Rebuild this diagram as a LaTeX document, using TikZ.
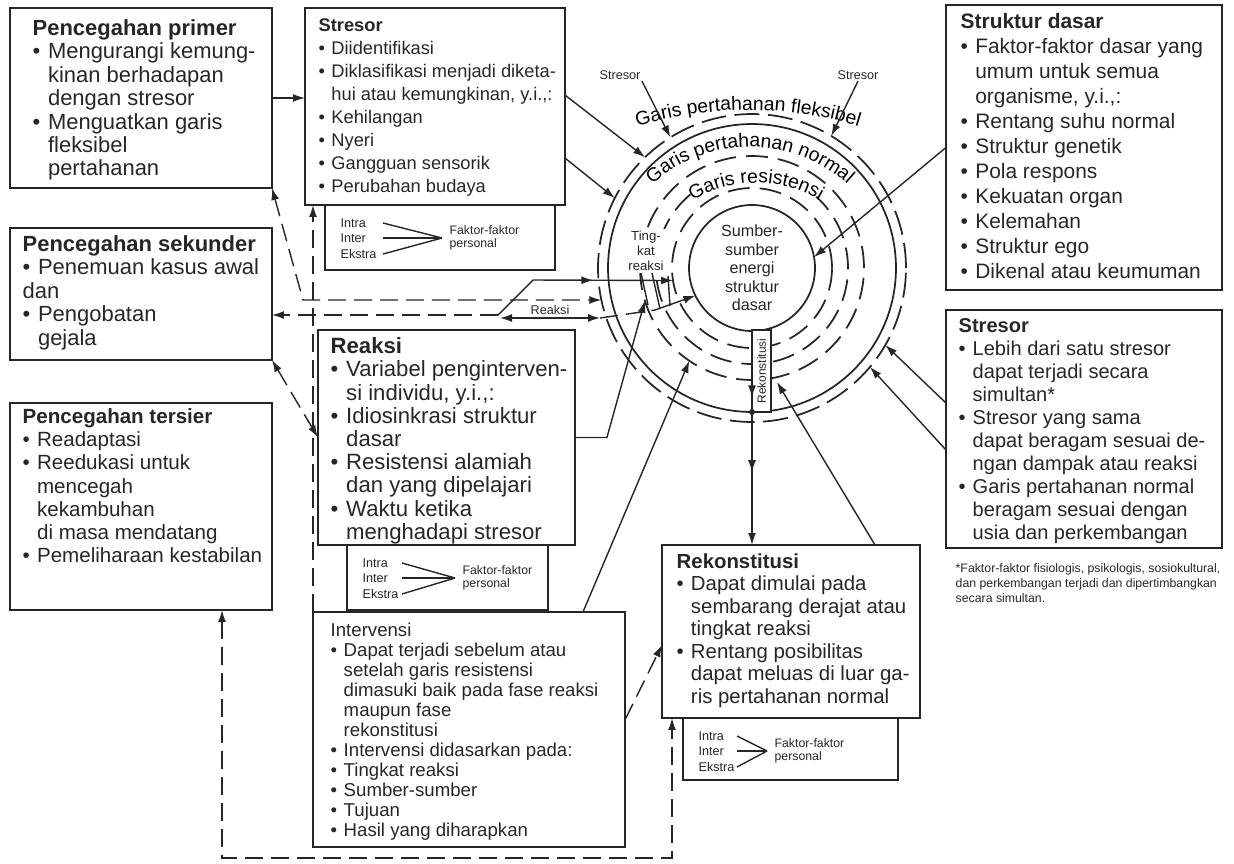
\documentclass[tikz,border=0pt]{standalone}
\usepackage{fontspec}
\setmainfont{Liberation Sans}
\usetikzlibrary{arrows.meta,calc,decorations.markings,decorations.text}

\definecolor{ink}{HTML}{262626}
\newcommand{\bul}{\makebox[0.7em][l]{\textbullet}}
\newcommand{\cont}{\hspace*{0.7em}}
\newcommand{\arcfont}{\fontsize{11}{12}\selectfont}

\tikzset{
  boxframe/.style={draw=ink, line width=1.1pt, anchor=north west, inner sep=0pt, outer sep=0pt},
  boxtext/.style={anchor=north west, align=left, inner sep=0pt, text=ink},
  smalltxt/.style={inner sep=0.5pt, text=ink, font=\fontsize{7.2}{8.6}\selectfont},
  ring/.style={circle, draw=ink, line width=1pt, inner sep=0pt, outer sep=0pt},
  resdash/.style={dash pattern=on 0.44cm off 0.2cm},
  dline/.style={dash pattern=on 0.36cm off 0.16cm},
  midarrow/.style={postaction={decorate}, decoration={markings, mark=at position #1 with {\arrow{>}}}},
  twomid/.style={postaction={decorate}, decoration={markings,
      mark=at position 0.31 with {\arrow{>}}, mark=at position 0.66 with {\arrow{>}}}},
}

\begin{document}
\begin{tikzpicture}[x=0.02cm, y=0.02cm, color=ink, line width=0.8pt, >={Latex[length=2.4mm,width=1.6mm]}]
\useasboundingbox (0,0) rectangle (1234,-863);

% boxes on the left
\node[boxframe, minimum width=5.24cm, minimum height=3.6cm] (primer) at (10,-8) {};
\node[boxtext, font=\fontsize{12.5}{13.3}\selectfont] (primertxt) at ($(primer.north west)+(22,-11)$)
  {\textbf{Pencegahan primer}\\\bul Mengurangi kemung-\\\cont kinan berhadapan\\\cont dengan stresor\\\bul Menguatkan garis\\\cont fleksibel\\\cont pertahanan};

\node[boxframe, minimum width=5.24cm, minimum height=2.64cm] (sekunder) at (10,-228) {};
\node[boxtext, font=\fontsize{12.5}{13.3}\selectfont] (sekundertxt) at ($(sekunder.north west)+(12,-7)$)
  {\textbf{Pencegahan sekunder}\\\bul Penemuan kasus awal\\dan\\\bul Pengobatan\\\cont gejala};

\node[boxframe, minimum width=5.24cm, minimum height=4.14cm] (tersier) at (10,-403) {};
\node[boxtext, font=\fontsize{11.7}{13.2}\selectfont] (tersiertxt) at ($(tersier.north west)+(12,-5)$)
  {\textbf{Pencegahan tersier}\\\bul Readaptasi\\\bul Reedukasi untuk\\\cont mencegah\\\cont kekambuhan\\\cont di masa mendatang\\\bul Pemeliharaan kestabilan};

% boxes in the middle
\node[boxframe, minimum width=5.2cm, minimum height=3.94cm] (stresorA) at (305,-8) {};
\node[boxtext, font=\fontsize{10.4}{13.1}\selectfont] (stresorAtxt) at ($(stresorA.north west)+(13,-10)$)
  {\textbf{Stresor}\\\bul Diidentifikasi\\\bul Diklasifikasi menjadi diketa-\\\cont hui atau kemungkinan, y.i.,:\\\bul Kehilangan\\\bul Nyeri\\\bul Gangguan sensorik\\\bul Perubahan budaya};
\node[boxframe, minimum width=4.6cm, minimum height=1.3cm] (stresorAsub) at (325,-205) {};

\node[boxframe, minimum width=5.14cm, minimum height=4.3cm] (reaksi) at (318,-330) {};
\node[boxtext, font=\fontsize{12.6}{13.2}\selectfont] (reaksitxt) at ($(reaksi.north west)+(12,-7)$)
  {\textbf{Reaksi}\\\bul Variabel penginterven-\\\cont si individu, y.i.,:\\\bul Idiosinkrasi struktur\\\cont dasar\\\bul Resistensi alamiah\\\cont dan yang dipelajari\\\bul Waktu ketika\\\cont menghadapi stresor};
\node[boxframe, minimum width=4.02cm, minimum height=1.3cm] (reaksisub) at (347,-545) {};

\node[boxframe, minimum width=6.24cm, minimum height=4.7cm] (interv) at (313,-612) {};
\node[boxtext, font=\fontsize{10.6}{11.4}\selectfont] (intervtxt) at ($(interv.north west)+(17,-10)$)
  {Intervensi\\\bul Dapat terjadi sebelum atau\\\cont setelah garis resistensi\\\cont dimasuki baik pada fase reaksi\\\cont maupun fase\\\cont rekonstitusi\\\bul Intervensi didasarkan pada:\\\bul Tingkat reaksi\\\bul Sumber-sumber\\\bul Tujuan\\\bul Hasil yang diharapkan};

\node[boxframe, minimum width=5.16cm, minimum height=3.46cm] (rekon) at (662,-545) {};
\node[boxtext, font=\fontsize{11.6}{12.8}\selectfont] (rekontxt) at ($(rekon.north west)+(14,-8)$)
  {\textbf{Rekonstitusi}\\\bul Dapat dimulai pada\\\cont sembarang derajat atau\\\cont tingkat reaksi\\\bul Rentang posibilitas\\\cont dapat meluas di luar ga-\\\cont ris pertahanan normal};
\node[boxframe, minimum width=4.3cm, minimum height=1.24cm] (rekonsub) at (683,-718) {};

% boxes on the right
\node[boxframe, minimum width=5.52cm, minimum height=5.7cm] (struktur) at (946,-5) {};
\node[boxtext, font=\fontsize{11.9}{14.2}\selectfont] (strukturtxt) at ($(struktur.north west)+(14,-8)$)
  {\textbf{Struktur dasar}\\\bul Faktor-faktor dasar yang\\\cont umum untuk semua\\\cont organisme, y.i.,:\\\bul Rentang suhu normal\\\bul Struktur genetik\\\bul Pola respons\\\bul Kekuatan organ\\\bul Kelemahan\\\bul Struktur ego\\\bul Dikenal atau keumuman};

\node[boxframe, minimum width=5.52cm, minimum height=4.76cm] (stresorB) at (946,-310) {};
\node[boxtext, font=\fontsize{11.4}{13.1}\selectfont] (stresorBtxt) at ($(stresorB.north west)+(12,-8)$)
  {\textbf{Stresor}\\\bul Lebih dari satu stresor\\\cont dapat terjadi secara\\\cont simultan*\\\bul Stresor yang sama\\\cont dapat beragam sesuai de-\\\cont ngan dampak atau reaksi\\\bul Garis pertahanan normal\\\cont beragam  sesuai dengan\\\cont usia dan perkembangan};

\node[boxtext, font=\fontsize{7}{8.5}\selectfont] (footnote) at (955,-563)
  {*Faktor-faktor fisiologis, psikologis, sosiokultural,\\dan perkembangan terjadi dan dipertimbangkan\\secara simultan.};

% personal factors in the small boxes
\foreach \s/\a/\b in {stresorAsub/58/117, reaksisub/55/108, rekonsub/54/84} {
  \node[smalltxt, anchor=west] (\s-intra) at ($(\s.north west)+(14,-18)$) {Intra};
  \node[smalltxt, anchor=west] (\s-inter) at ($(\s.north west)+(14,-33)$) {Inter};
  \node[smalltxt, anchor=west] (\s-ekstra) at ($(\s.north west)+(14,-49)$) {Ekstra};
  \coordinate (\s-a) at ($(\s.north west)+(\a,0)$);
  \coordinate (\s-c) at ($(\s.north west)+(\b,-33)$);
  \draw (\s-intra.east -| \s-a) -- (\s-c);
  \draw (\s-inter.east -| \s-a) -- (\s-c);
  \draw (\s-ekstra.east -| \s-a) -- (\s-c);
  \node[smalltxt, anchor=west, align=left, font=\fontsize{7}{7.6}\selectfont] (\s-fak) at ($(\s-c)+(6,0)$) {Faktor-faktor\\personal};
}

% the rings
\coordinate (C) at (752,-268);
\node[ring, dash pattern=on 0.5cm off 0.17cm, minimum size=6.16cm] (flex) at (C) {};
\node[ring, minimum size=5.76cm] (normal) at (C) {};
\node[ring, resdash, minimum size=4.48cm] (res3) at (C) {};
\draw[resdash, line width=1pt, shift={(C)}] (130:96) arc (130:408:96);
\node[ring, resdash, minimum size=3.2cm] (res1) at (C) {};
\node[ring, align=center, font=\fontsize{9.2}{10.5}\selectfont] (core) at (C) [minimum size=2.52cm]
  {Sumber-\\sumber\\energi\\struktur\\dasar};

\path[decorate, decoration={text along path, text={|\arcfont|Garis pertahanan fleksibel}, text align=center}]
  [shift={(748,-487)}] (110:377) arc (110:70:377);
\path[decorate, decoration={text along path, text={|\arcfont|Garis pertahanan normal}, text align=center}]
  [shift={(750,-293)}] (140:146) arc (140:40:146);
\path[decorate, decoration={text along path, text={|\fontsize{11}{12}\selectfont|Garis resistensi}, text align=center}]
  [shift={(756,-306)}] (126:123) arc (126:54:123);

\node[smalltxt, align=center, fill=white, inner sep=1pt, font=\fontsize{7.5}{8.5}\selectfont] (tingkat) at (646,-251) {Ting-\\kat\\reaksi};
\draw (641,-273) -- (648,-305);
\draw (652,-273) -- (660,-309);
\draw (668,-276) -- (670,-306);

\node[draw, fill=white, rotate=90, minimum width=1.64cm, minimum height=0.38cm, inner sep=0pt,
  font=\fontsize{6.8}{7}\selectfont] (strip) at (761.5,-371) {Rekonstitusi};

% stressors coming in
\node[smalltxt] (strl) at (620,-75) {Stresor};
\node[smalltxt] (strr) at (858,-75) {Stresor};
\draw[->] (strl.south east) -- (flex.122);
\draw[->] (strr.south) -- (flex.59);
\draw[->] (primer.east) -- (primer.east -| stresorA.west);
\draw[->] (stresorA.east |- 0,-95) -- (flex.134);
\draw[->] (stresorA.east |- 0,-158) -- (flex.153);
\draw[->] (struktur.west) -- (core.10);
\draw[->] (stresorB.west |- 0,-403) -- (flex.-30);
\draw[->] (stresorB.west |- 0,-450) -- (flex.-40);

% reconstitution
\draw[->, twomid] (core.south) -- (core.south |- rekon.north);
\fill (normal.south) circle (3);
\coordinate (rekin) at (777,-382);
\draw[->] (rekon.north -| 875,0) -- (rekin);
\draw[->] (interv.north -| 583,0) -- (res3.236);
\draw[->] (reaksi.east) -- ++(32,0) -- (res3.197);

% prevention paths
\coordinate (pc) at (303,-300);
\draw[dline, <->] (primer.south east) -- (pc) -- (flex.192);
\coordinate (jn) at (498,-315);
\coordinate (jn2) at (533,-280);
\draw[dline, ->] (jn) -- (sekunder.east |- jn);
\draw[->, midarrow=0.58] (jn) -- (jn2) -- (res1.189);
\coordinate (ra) at (500,-318);
\coordinate (rb) at (600,-318);
\coordinate (rc) at (655,-310);
\draw[<->] (ra) -- (rb);
\node[smalltxt, above=1pt] (reaksilbl) at ($(ra)!0.5!(rb)$) {Reaksi};
\draw[dline] (rb) -- (rc);
\draw[->] (rc) -- (core.206);
\draw[dline, <->] (sekunder.south east) -- (reaksi.west);
\draw[dline, ->] (interv.north west) -- (interv.north west |- stresorA.south);
\draw[dline, ->] (interv.east |- 0,-720) -- (rekon.west |- 0,-645);
\coordinate (bl) at (222,-858);
\coordinate (br) at (672,-858);
\draw[dline, <->] (tersier.south -| bl) -- (bl) -- (br) -- (rekon.south -| br);
\end{tikzpicture}
\end{document}
